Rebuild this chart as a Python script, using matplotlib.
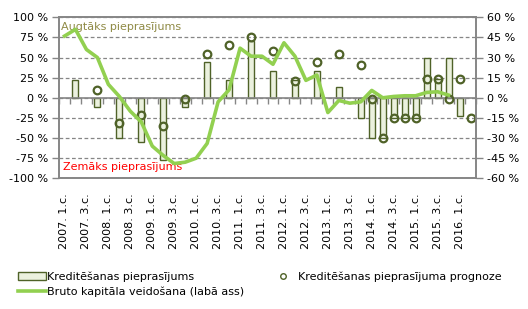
import numpy as np
import matplotlib
matplotlib.use("Agg")
import matplotlib.pyplot as plt
from matplotlib.patches import Rectangle
from matplotlib.lines import Line2D

nan = np.nan
quarters = [f"{y}. {q}.c." for y in range(2007, 2017) for q in (1, 2, 3, 4)][:38]
tick_labels = quarters[::2]

demand = [nan, 22, nan, -11, nan, -50, nan, -55, nan, -77, nan, -11, nan, 44, nan, 22,
          nan, 70, nan, 33, nan, 22, nan, 33, nan, 14, nan, -25, -50, -50, -25, -25,
          -25, 50, 23, 50, -23, nan]
forecast = [nan, nan, nan, 10, nan, -31, nan, -21, nan, -35, nan, -1.5, nan, 54, nan, 66,
            nan, 76, nan, 58, nan, 21, nan, 44, nan, 55, nan, 41, -1.5, -50, -25, -25,
            -25, 23, 23, -1.5, 23, -25]
gfcf = [46, 51, 36, 30, 10, 1, -10, -18, -36, -43, -49, -48, -45, -34, -3, 6,
        37, 31, 31, 25, 41, 31, 13, 17, -11, -2, -4, -3, 5.5, 0, 1, 1.5,
        1.5, 4, 4.5, 2, nan, nan]

left_ticks = [-100, -75, -50, -25, 0, 25, 50, 75, 100]
right_ticks = [-60, -45, -30, -15, 0, 15, 30, 45, 60]

bar_face = "#EBF1DE"
bar_edge = "#4F6228"
line_col = "#92D050"
grey = "#868686"
fs = 8

fig = plt.figure(figsize=(5.28, 3.09), dpi=100)
ax = fig.add_axes([59/528, 1-178.3/309, (476-59)/528, (178.3-17.3)/309])
ax2 = ax.twinx()

x = np.arange(len(quarters))
ax.bar(x, demand, width=0.55, color=bar_face, edgecolor=bar_edge, linewidth=1.0, zorder=2)
ax.plot(x, forecast, linestyle="none", marker="o", markersize=5.5, markerfacecolor="none",
        markeredgecolor=bar_edge, markeredgewidth=1.6, zorder=3)
ax2.plot(x, gfcf, color=line_col, linewidth=2.6, zorder=3)

ax.set_xlim(-0.5, len(quarters) - 0.5)
ax.set_ylim(-100, 100)
ax2.set_ylim(-60, 60)

ax.set_yticks(left_ticks)
ax.set_yticklabels([f"{v} %" for v in left_ticks], fontsize=fs)
ax2.set_yticks(right_ticks)
ax2.set_yticklabels([f"{v} %" for v in right_ticks], fontsize=fs)
ax.tick_params(axis="y", length=5, color=grey, width=1, pad=3)
ax2.tick_params(axis="y", length=5, color=grey, width=1, pad=3)

# category axis crossing at 0
ax.spines["bottom"].set_position(("data", 0))
ax.set_xticks(np.arange(-0.5, len(quarters), 1))
ax.set_xticklabels([])
ax.tick_params(axis="x", length=4, color=grey, width=1, direction="out")

sec = ax.secondary_xaxis(0.0)
sec.set_xticks(x[::2])
sec.set_xticklabels(tick_labels, rotation=90, fontsize=fs)
sec.tick_params(axis="x", length=0, pad=11)
sec.spines["bottom"].set_color(grey)
sec.spines["bottom"].set_linewidth(1.2)

for s in ["top", "left", "right", "bottom"]:
    ax.spines[s].set_color(grey)
    ax.spines[s].set_linewidth(1.2)
for s in ax2.spines.values():
    s.set_color(grey)
    s.set_linewidth(1.2)

ax.set_axisbelow(True)
ax.grid(True, axis="y", which="major", linestyle="--", dashes=(3, 2),
        color=grey, linewidth=0.9)
ax.grid(False, axis="x")

ax.text(0.005, 0.94, "Augtāks pieprasījums", transform=ax.transAxes, fontsize=fs,
        color="#8F8A45", va="center", ha="left")
ax.text(0.01, 0.068, "Zemāks pieprasījums", transform=ax.transAxes, fontsize=fs,
        color="#FF0000", va="center", ha="left")

handles = [Rectangle((0, 0), 1, 1, facecolor=bar_face, edgecolor=bar_edge, linewidth=1.0),
           Line2D([], [], color=line_col, linewidth=2.6),
           Line2D([], [], linestyle="none", marker="o", markersize=4, markerfacecolor="none",
                  markeredgecolor=bar_edge, markeredgewidth=1.0)]
labels = ["Kreditēšanas pieprasījums", "Bruto kapitāla veidošana (labā ass)",
          "Kreditēšanas pieprasījuma prognoze"]
fig.legend(handles, labels, ncol=2, loc="lower left", bbox_to_anchor=(0.02, 0.015),
           frameon=False, fontsize=fs, handlelength=2.5, handletextpad=0.1,
           columnspacing=2.2, labelspacing=0.35, borderpad=0.2)

fig.savefig("out.png", dpi=100)
